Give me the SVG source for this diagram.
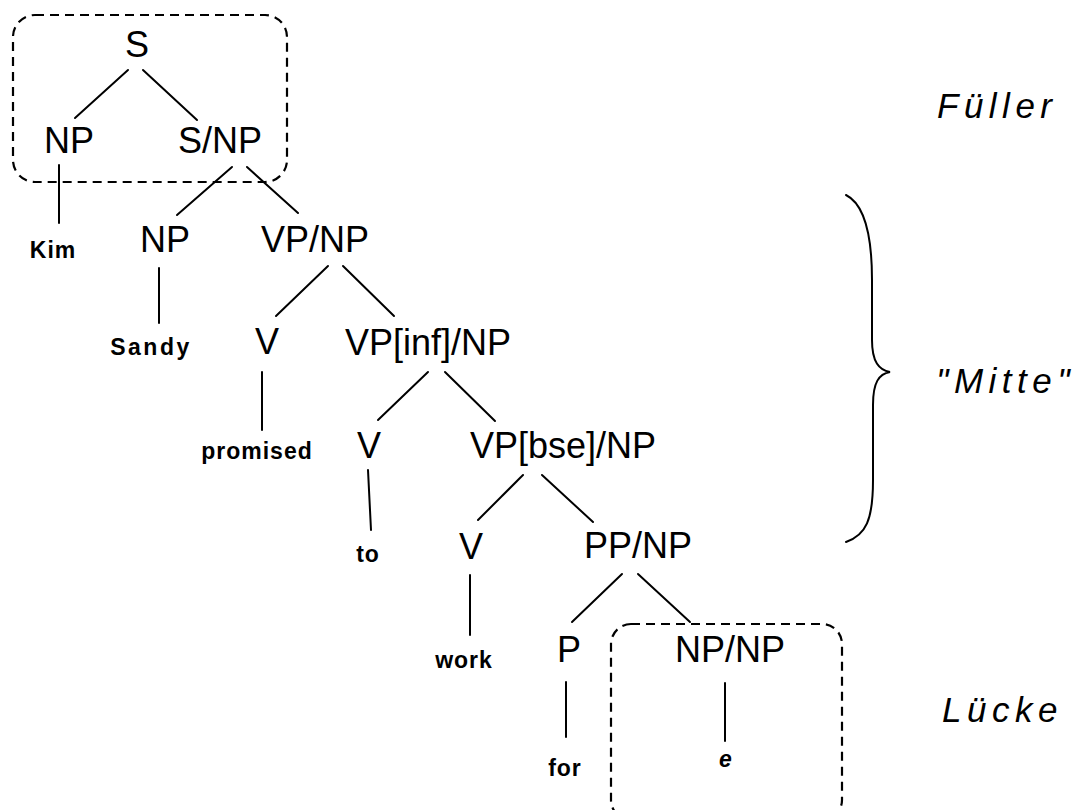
<svg xmlns="http://www.w3.org/2000/svg" width="1084" height="810" viewBox="0 0 1084 810">
<style>
.n{font-family:"Liberation Sans",Arial,sans-serif;font-size:36px;fill:#000;text-anchor:middle}
.w{font-family:"Liberation Sans",Arial,sans-serif;font-size:23px;font-weight:bold;fill:#000;text-anchor:middle;letter-spacing:1px}
.lab{font-family:"Liberation Sans",Arial,sans-serif;font-size:35px;font-style:italic;fill:#000;letter-spacing:5.5px}
.e{stroke:#000;stroke-width:2;fill:none;stroke-linecap:round}
.box{stroke:#000;stroke-width:2.2;fill:none;stroke-dasharray:9 6}
</style>
<rect width="1084" height="810" fill="#fff"/>
<g id="filler-box"><rect class="box" x="13" y="15" width="274" height="167" rx="22"/></g>
<g id="gap-box"><rect class="box" x="611" y="624" width="231" height="196" rx="20"/></g>
<g id="connectors">
<line class="e" x1="128" y1="70" x2="75" y2="118"/>
<line class="e" x1="143" y1="70" x2="197" y2="120"/>
<line class="e" x1="59" y1="165" x2="59" y2="223"/>
<line class="e" x1="232" y1="167" x2="177" y2="215"/>
<line class="e" x1="247" y1="167" x2="298" y2="213"/>
<line class="e" x1="159" y1="268" x2="159" y2="323"/>
<line class="e" x1="328" y1="266" x2="276" y2="316"/>
<line class="e" x1="343" y1="266" x2="394" y2="316"/>
<line class="e" x1="262" y1="372" x2="262" y2="430"/>
<line class="e" x1="428" y1="372" x2="378" y2="420"/>
<line class="e" x1="445" y1="372" x2="495" y2="421"/>
<line class="e" x1="368" y1="470" x2="371" y2="530"/>
<line class="e" x1="523" y1="475" x2="478" y2="520"/>
<line class="e" x1="542" y1="475" x2="593" y2="522"/>
<line class="e" x1="470" y1="575" x2="470" y2="635"/>
<line class="e" x1="622" y1="574" x2="572" y2="622"/>
<line class="e" x1="638" y1="574" x2="690" y2="622"/>
<line class="e" x1="566" y1="682" x2="566" y2="737"/>
<line class="e" x1="725" y1="683" x2="725" y2="741"/>
</g>
<g id="brace"><path class="e" d="M846,195 C866,205 872,240 872,280 L872,340 C872,362 879,370 890,372 C879,374 873,382 873,405 L873,480 C873,520 866,535 846,542"/></g>
<g id="n-S"><text class="n" x="137" y="57">S</text></g>
<g id="n-NP1"><text class="n" x="69" y="153">NP</text></g>
<g id="n-SNP"><text class="n" x="220" y="153">S/NP</text></g>
<g id="n-Kim"><text class="w" x="53" y="258">Kim</text></g>
<g id="n-NP2"><text class="n" x="165" y="252">NP</text></g>
<g id="n-VPNP"><text class="n" x="315" y="252">VP/NP</text></g>
<g id="n-Sandy"><text class="w" x="151" y="355" style="letter-spacing:2.5px">Sandy</text></g>
<g id="n-V1"><text class="n" x="267" y="354">V</text></g>
<g id="n-VPinf"><text class="n" x="428" y="355">VP[inf]/NP</text></g>
<g id="n-promised"><text class="w" x="257" y="459">promised</text></g>
<g id="n-V2"><text class="n" x="369" y="458">V</text></g>
<g id="n-VPbse"><text class="n" x="563" y="458">VP[bse]/NP</text></g>
<g id="n-to"><text class="w" x="368" y="562">to</text></g>
<g id="n-V3"><text class="n" x="471" y="559">V</text></g>
<g id="n-PPNP"><text class="n" x="638" y="558">PP/NP</text></g>
<g id="n-work"><text class="w" x="464" y="668">work</text></g>
<g id="n-P"><text class="n" x="569" y="662">P</text></g>
<g id="n-NPNP"><text class="n" x="730" y="662">NP/NP</text></g>
<g id="n-for"><text class="w" x="565" y="776">for</text></g>
<g id="n-e"><text class="w" x="726" y="767" style="font-style:italic">e</text></g>
<g id="labels">
<text class="lab" x="937" y="118">Füller</text>
<text class="lab" x="936" y="393">"Mitte"</text>
<text class="lab" x="942" y="722">Lücke</text>
</g>
</svg>
